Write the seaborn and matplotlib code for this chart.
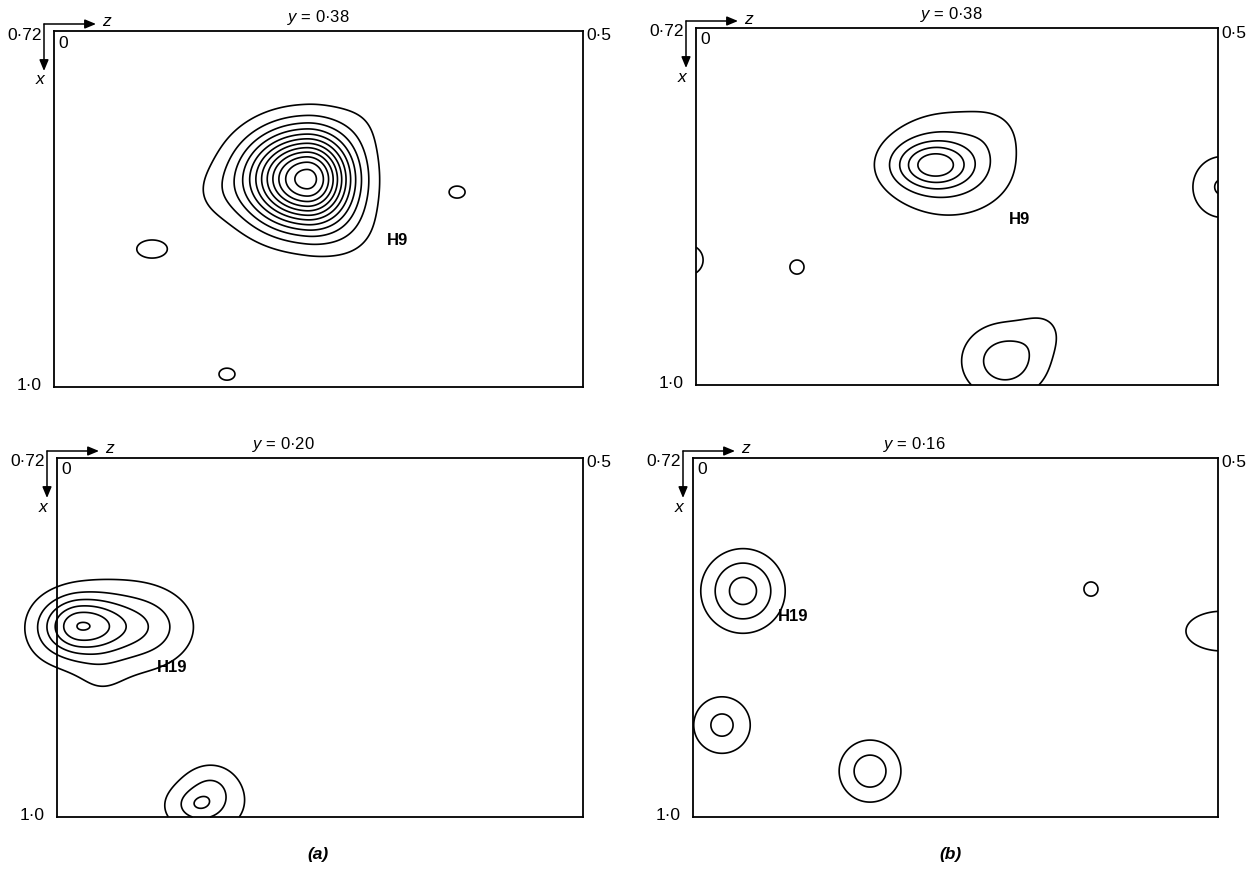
import numpy as np
import matplotlib
matplotlib.use("Agg")
import matplotlib.pyplot as plt
import seaborn as sns

# ---------------- data (z, x in fractional coordinates) ----------------
# panel (a) top : section y = 0.38
a1_z   = [0.2391, 0.150, 0.2940, 0.280, 0.0926, 0.381, 0.1635]
a1_x   = [0.8364, 0.8482, 0.7900, 0.8800, 0.8915, 0.8467, 0.9899]
a1_amp = [12.5, 0.5, 0.5, 0.7, 1.3, 1.3, 1.3]
a1_szl = [0.0397, 0.0189, 0.0236, 0.0260, 0.0198, 0.0104, 0.0104]
a1_szr = [0.0302, 0.0189, 0.0236, 0.0260, 0.0198, 0.0104, 0.0104]
a1_sx  = [0.0260, 0.0157, 0.0197, 0.0197, 0.0098, 0.0065, 0.0065]
a1_levels = [1, 2, 3, 4, 5, 6, 7, 8, 9, 10, 11, 12]

# panel (b) top : section y = 0.38
b1_z   = [0.227, 0.2433, 0.286, 0.504, -0.0077, 0.0967, 0.296, 0.3343]
b1_x   = [0.8275, 0.8267, 0.799, 0.8447, 0.902, 0.9075, 0.9812, 0.956]
b1_amp = [3.8, 2.2, 0.4, 2.1, 1.2, 1.3, 2.5, 0.7]
b1_szl = [0.0249, 0.0479, 0.02, 0.023, 0.024, 0.0093, 0.0307, 0.0172]
b1_szr = [0.0249, 0.0479, 0.02, 0.023, 0.024, 0.0093, 0.0307, 0.0172]
b1_sx  = [0.01255, 0.0314, 0.015, 0.0196, 0.0196, 0.0076, 0.022, 0.0141]
b1_levels = [1, 2, 3, 4, 5]

# panel (a) bottom : section y = 0.20
a2_z   = [0.0219, 0.0837, 0.0640, -0.0114, 0.041, 0.1331, 0.1473, 0.1388]
a2_x   = [0.8510, 0.8518, 0.8518, 0.855, 0.8924, 0.9907, 0.9782, 0.9922]
a2_amp = [4.7, 1.2, 1.6, 0.6, 0.5, 1.2, 1.2, 1.35]
a2_szl = [0.0228, 0.0266, 0.0523, 0.019, 0.019, 0.0133, 0.0171, 0.0399]
a2_szr = [0.0285, 0.0266, 0.0523, 0.019, 0.019, 0.0133, 0.0171, 0.0399]
a2_sx  = [0.0156, 0.0172, 0.0310, 0.0195, 0.0156, 0.0078, 0.014, 0.0234]
a2_levels = [1, 2, 3, 4, 5, 6]

# panel (b) bottom : section y = 0.16
b2_z   = [0.0476, 0.0276, 0.1686, 0.379, 0.5038]
b2_x   = [0.8237, 0.9283, 0.9642, 0.8222, 0.855]
b2_amp = [3.4, 2.27, 2.57, 1.3, 1.5]
b2_szl = [0.0257, 0.021, 0.0214, 0.0092, 0.0381]
b2_szr = [0.0257, 0.021, 0.0214, 0.0092, 0.0381]
b2_sx  = [0.0211, 0.0172, 0.0176, 0.0076, 0.0172]
b2_levels = [1, 2, 3]

section_labels = ["y = 0·38", "y = 0·38", "y = 0·20", "y = 0·16"]
section_label_z = [0.2495, 0.245, 0.215, 0.211]
atom_labels = ["H9", "H9", "H19", "H19"]
atom_label_z = [0.325, 0.310, 0.109, 0.0952]
atom_label_x = [0.8837, 0.8698, 0.883, 0.8432]
z_range = [0.0, 0.5]
x_range = [0.72, 1.0]
z_tick_labels = ["0", "0·5"]
x_tick_labels = ["0·72", "1·0"]
panel_letters = ["(a)", "(b)"]

# ---------------- drawing ----------------
sns.set_theme(style="white")
plt.rcParams['font.family'] = ['Liberation Sans', 'DejaVu Sans']
plt.rcParams['mathtext.fontset'] = 'custom'
plt.rcParams['mathtext.it'] = 'Liberation Sans:italic'
plt.rcParams['mathtext.rm'] = 'Liberation Sans'
plt.rcParams['text.color'] = 'black'

W, H = 1252, 870
fig = plt.figure(figsize=(W / 100, H / 100), dpi=100)
fig.patch.set_facecolor("white")

# frames in pixels: left, top, right, bottom
frames = [(54, 32, 583, 388), (696, 29, 1218, 386),
          (57, 459, 583, 818), (693, 459, 1218, 818)]

panels = [
    (a1_z, a1_x, a1_amp, a1_szl, a1_szr, a1_sx, a1_levels, False),
    (b1_z, b1_x, b1_amp, b1_szl, b1_szr, b1_sx, b1_levels, True),
    (a2_z, a2_x, a2_amp, a2_szl, a2_szr, a2_sx, a2_levels, False),
    (b2_z, b2_x, b2_amp, b2_szl, b2_szr, b2_sx, b2_levels, True),
]


def field(Z, X, pz, px, amp, szl, szr, sx):
    F = np.zeros_like(Z)
    for cz, cx, a, sl, sr, s in zip(pz, px, amp, szl, szr, sx):
        sz = np.where(Z < cz, sl, sr)
        F += a * np.exp(-0.5 * (((Z - cz) / sz) ** 2 + ((X - cx) / s) ** 2))
    return F


def ftext(x, y, s, **kw):
    fig.text(x / W, 1 - y / H, s, color="black", **kw)


arr = dict(arrowstyle="-|>,head_length=0.6,head_width=0.25", color="black",
           lw=1.1, shrinkA=0, shrinkB=0, mutation_scale=11)

for i, ((L, T, R, B), (pz, px, amp, szl, szr, sx, lev, clip)) in enumerate(zip(frames, panels)):
    ax = fig.add_axes([L / W, 1 - B / H, (R - L) / W, (B - T) / H])
    zmin = z_range[0] if clip else z_range[0] - 0.05
    zz = np.linspace(zmin, z_range[1], 700)
    xx = np.linspace(x_range[0], x_range[1], 450)
    Z, X = np.meshgrid(zz, xx)
    F = field(Z, X, pz, px, amp, szl, szr, sx)
    cs = ax.contour(Z, X, F, levels=lev, colors="black", linewidths=1.2)
    if not clip:
        cs.set_clip_on(False)
    ax.set_xlim(*z_range)
    ax.set_ylim(x_range[1], x_range[0])
    ax.set_xticks([])
    ax.set_yticks([])
    for sp in ax.spines.values():
        sp.set_visible(True)
        sp.set_color("black")
        sp.set_linewidth(1.3)
    ax.set_facecolor("none")

    # atom label
    ax.text(atom_label_z[i], atom_label_x[i], atom_labels[i], fontsize=12,
            fontweight="bold", ha="center", va="center", color="black")
    # section label
    lab = section_labels[i].replace("y", "$y$", 1)
    ax.text(section_label_z[i], x_range[0] - 0.004, lab, fontsize=12,
            ha="center", va="bottom", clip_on=False, color="black")

    # axis decorations
    cx, cy = L - 10, T - 7
    ftext(L - 12, T + 3, x_tick_labels[0], fontsize=12.5, ha="right", va="center")
    ftext(L - 12, B - 2, x_tick_labels[1], fontsize=12.5, ha="right", va="center")
    ftext(R + 3, T + 4, z_tick_labels[1], fontsize=12.5, ha="left", va="center")
    ftext(L + 4, T + 11, z_tick_labels[0], fontsize=12.5, ha="left", va="center")
    fig.add_artist(matplotlib.patches.FancyArrowPatch(
        (cx / W, 1 - cy / H), ((L + 42) / W, 1 - cy / H),
        transform=fig.transFigure, **arr))
    fig.add_artist(matplotlib.patches.FancyArrowPatch(
        (cx / W, 1 - cy / H), (cx / W, 1 - (T + 40) / H),
        transform=fig.transFigure, **arr))
    ftext(L + 48, T - 10, "z", fontsize=12.5, style="italic", ha="left", va="center")
    ftext(L - 14, T + 48, "x", fontsize=12.5, style="italic", ha="center", va="center")

ftext(318, 855, panel_letters[0], fontsize=12.5, style="italic",
      fontweight="bold", ha="center", va="center")
ftext(950, 855, panel_letters[1], fontsize=12.5, style="italic",
      fontweight="bold", ha="center", va="center")

fig.savefig("out.png", dpi=100, facecolor="white")
